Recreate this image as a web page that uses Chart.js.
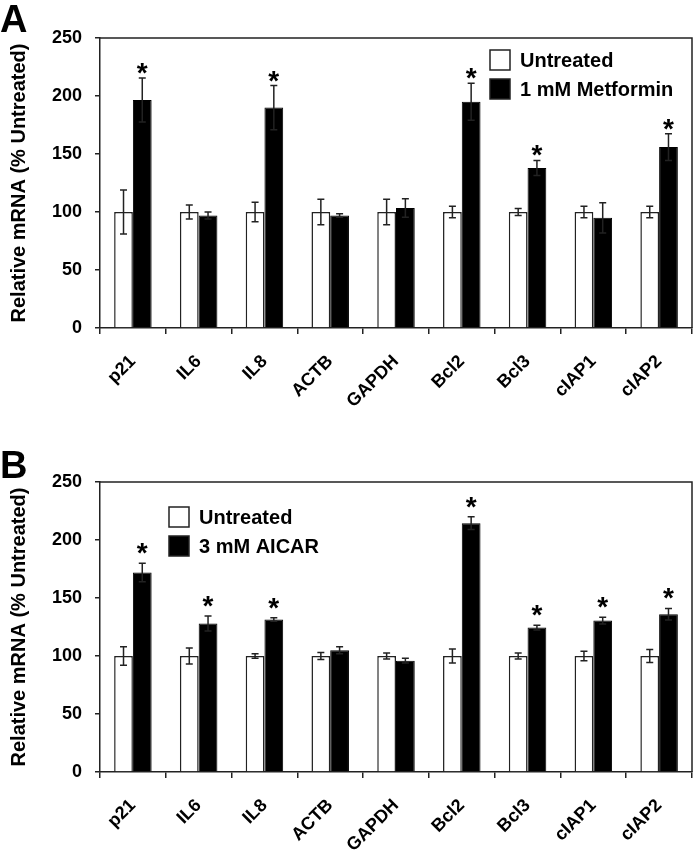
<!DOCTYPE html>
<html>
<head>
<meta charset="utf-8">
<script src="https://cdn.jsdelivr.net/npm/chart.js@4.4.1/dist/chart.umd.min.js"></script>
<style>
  body { margin: 0; background: #fff; width: 693px; height: 852px; position: relative; overflow: hidden;
         font-family: 'Liberation Sans', Arial, sans-serif; }
  canvas { position: absolute; left: 0; }
  .letter { position: absolute; left: 0; font-weight: bold; font-size: 38px; line-height: 38px; color: #000; }
</style>
</head>
<body>
<canvas id="chartA" style="top:0" width="693" height="425"></canvas>
<canvas id="chartB" style="top:400px" width="693" height="452"></canvas>
<div class="letter" style="top:0">A</div>
<div class="letter" style="top:446px">B</div>
<script>
// genes on the x axis
var genes = ['p21', 'IL6', 'IL8', 'ACTB', 'GAPDH', 'Bcl2', 'Bcl3', 'cIAP1', 'cIAP2'];

// panel A : metformin
var metUntreated    = [100, 100, 100, 100, 100, 100, 100, 100, 100];
var metUntreatedErr = [19, 6, 8.5, 11, 11, 5, 3, 5, 5];
var metTreated      = [196.5, 97, 190, 97, 103.5, 195, 138, 95, 156];
var metTreatedErr   = [19, 3, 19, 1.5, 8, 16, 6.5, 13, 11.5];
var metSig          = [1, 0, 1, 0, 0, 1, 1, 0, 1];

// panel B : AICAR
var aicUntreated    = [100, 100, 100, 100, 100, 100, 100, 100, 100];
var aicUntreatedErr = [8, 7, 2, 3, 2.5, 6, 2.5, 4, 5.5];
var aicTreated      = [172, 128, 131.5, 105, 96, 214.5, 124.5, 130.5, 136];
var aicTreatedErr   = [8, 6.5, 1.5, 3, 2, 5.5, 2, 3, 5];
var aicSig          = [1, 1, 1, 0, 0, 1, 1, 1, 1];

var yTicks = [0, 50, 100, 150, 200, 250];
var yTitle = 'Relative mRNA (% Untreated)';

var FONT = "'Liberation Sans', Arial, sans-serif";
Chart.defaults.font.family = FONT;
Chart.defaults.color = '#000';

var extras = {              // error bars, stars, legend, frame
  id: 'extras',
  afterDatasetsDraw: function(chart, args, opt) {
    var ctx = chart.ctx;
    var y = chart.scales.y;
    ctx.save();
    ctx.strokeStyle = '#222';
    ctx.lineWidth = 1.5;
    chart.data.datasets.forEach(function(ds, i) {
      chart.getDatasetMeta(i).data.forEach(function(bar, j) {
        var top = y.getPixelForValue(ds.data[j] + ds.errors[j]);
        var bot = y.getPixelForValue(ds.data[j] - ds.errors[j]);
        ctx.beginPath();
        ctx.moveTo(bar.x, top); ctx.lineTo(bar.x, bot);
        ctx.moveTo(bar.x - 3.5, top); ctx.lineTo(bar.x + 3.5, top);
        ctx.moveTo(bar.x - 3.5, bot); ctx.lineTo(bar.x + 3.5, bot);
        ctx.stroke();
      });
    });

    // asterisks over the treated bars
    var ds = chart.data.datasets[1];
    ctx.fillStyle = '#000';
    ctx.font = 'bold 28px ' + FONT;
    ctx.textAlign = 'center';
    ctx.textBaseline = 'alphabetic';
    chart.getDatasetMeta(1).data.forEach(function(bar, j) {
      if (!opt.sig[j]) return;
      var top = y.getPixelForValue(ds.data[j] + ds.errors[j]);
      ctx.fillText('*', bar.x, top - opt.gap + 7);
    });

    // top and right of the frame
    var a = chart.chartArea;
    ctx.beginPath();
    ctx.moveTo(a.left, a.top); ctx.lineTo(a.right, a.top); ctx.lineTo(a.right, a.bottom);
    ctx.stroke();

    // legend
    ctx.font = 'bold 20px ' + FONT;
    ctx.textAlign = 'left';
    ctx.textBaseline = 'middle';
    chart.data.datasets.forEach(function(d, i) {
      var by = opt.legY + i * 29;
      ctx.fillStyle = d.backgroundColor;
      ctx.fillRect(opt.legX, by, 20, 20);
      ctx.strokeRect(opt.legX, by, 20, 20);
      ctx.fillStyle = '#000';
      ctx.fillText(d.label, opt.legX + 30, by + 11);
    });
    ctx.restore();
  }
};

function makeChart(id, label, untreated, untreatedErr, treated, treatedErr, sig, padTop, xHeight, legX, legY, gap) {
  var ctx = document.getElementById(id).getContext('2d');
  return new Chart(ctx, {
    type: 'bar',
    data: {
      labels: genes,
      datasets: [
        { label: 'Untreated', data: untreated, errors: untreatedErr,
          backgroundColor: '#fff', borderColor: '#222', borderWidth: 1.5 },
        { label: label, data: treated, errors: treatedErr,
          backgroundColor: '#000', borderColor: '#000', borderWidth: 1 }
      ]
    },
    options: {
      responsive: false,
      animation: false,
      categoryPercentage: 0.57,
      barPercentage: 1.0,
      layout: { padding: { top: padTop, right: 1, left: 0, bottom: 0 } },
      plugins: {
        legend: { display: false },
        tooltip: { enabled: false },
        extras: { sig: sig, legX: legX, legY: legY, gap: gap }
      },
      scales: {
        x: {
          grid: { offset: true, drawOnChartArea: false, drawTicks: true, tickLength: 6, color: '#222', lineWidth: 1.5 },
          border: { color: '#222', width: 1.5 },
          ticks: { minRotation: 45, maxRotation: 45, padding: 17, color: '#000',
                   font: { size: 18, weight: 'bold' } },
          afterFit: function(s) { s.height = xHeight; }
        },
        y: {
          min: 0, max: 250,
          afterBuildTicks: function(s) { s.ticks = yTicks.map(function(v) { return { value: v }; }); },
          grid: { drawOnChartArea: false, drawTicks: true, tickLength: 5, color: '#222', lineWidth: 1.5 },
          border: { color: '#222', width: 1.5 },
          ticks: { padding: 13, color: '#000', font: { size: 18, weight: 'bold' } },
          title: { display: true, text: yTitle, color: '#000', padding: { top: 7, bottom: 0 },
                   font: { size: 20, weight: 'bold' } },
          afterFit: function(s) { s.width = 100; }
        }
      }
    },
    plugins: [extras]
  });
}

makeChart('chartA', '1 mM Metformin', metUntreated, metUntreatedErr, metTreated, metTreatedErr, metSig,
          38, 97, 490, 50, 3);
makeChart('chartB', '3 mM AICAR', aicUntreated, aicUntreatedErr, aicTreated, aicTreatedErr, aicSig,
          82, 80, 169, 107, 8);
</script>
</body>
</html>
